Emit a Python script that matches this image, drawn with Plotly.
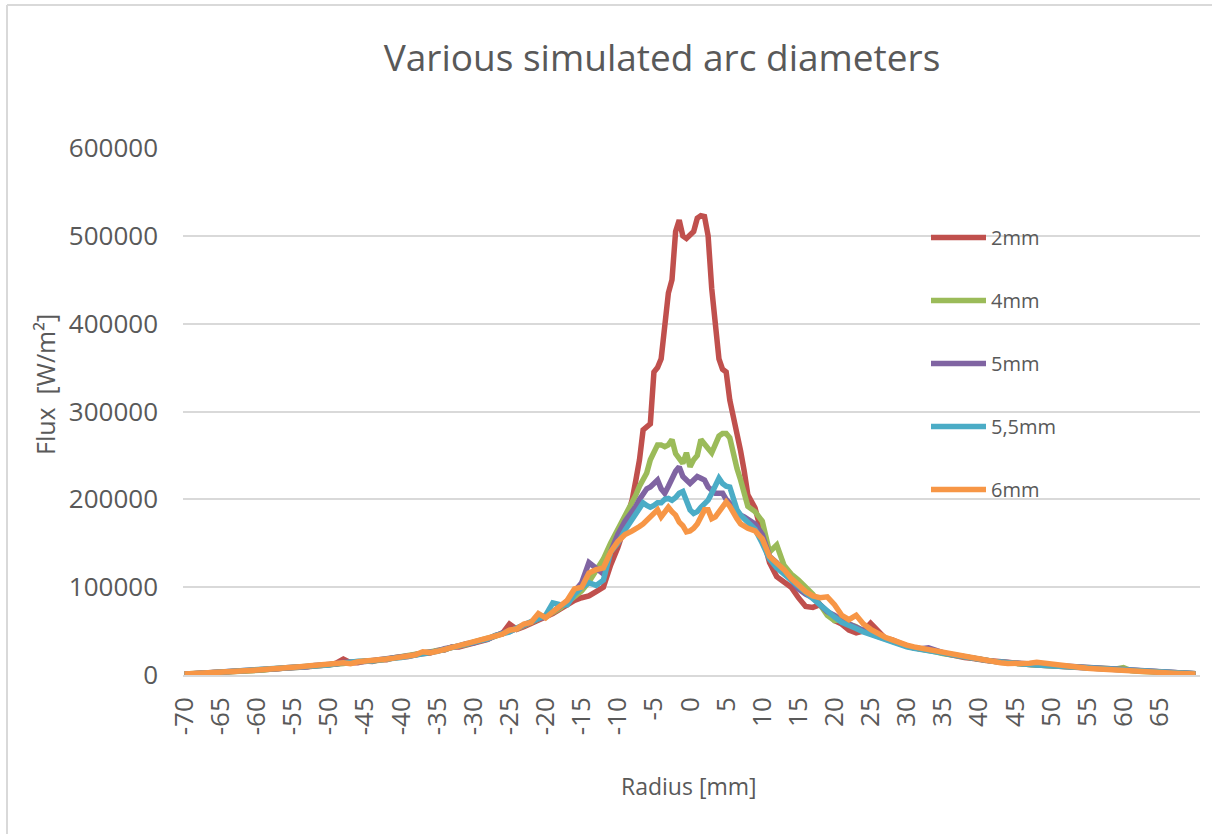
import numpy as np
import plotly.graph_objects as go

# Radius positions [mm]
radius = [
    -70, -69, -68, -67, -66, -65, -64, -63, -62, -61,
    -60, -59, -58, -57, -56, -55, -54, -53, -52, -51,
    -50, -49, -48, -47, -46, -45, -44, -43, -42, -41,
    -40, -39, -38, -37, -36, -35, -34, -33, -32, -31,
    -30, -29, -28, -27, -26, -25, -24, -23, -22, -21,
    -20, -19, -18, -17, -16, -15, -14, -13, -12, -11, -10, -9,
    -8, -7.5, -7, -6.5, -6, -5.5, -5, -4.5, -4, -3.5, -3, -2.5, -2, -1.5, -1, -0.5,
    0, 0.5, 1, 1.5, 2, 2.5, 3, 3.5, 4, 4.5, 5, 5.5, 6, 6.5, 7, 7.5, 8,
    9, 10, 11, 12, 13, 14, 15, 16, 17, 18,
    19, 20, 21, 22, 23, 24, 25, 26, 27, 28,
    29, 30, 31, 32, 33, 34, 35, 36, 37, 38,
    39, 40, 41, 42, 43, 44, 45, 46, 47, 48,
    49, 50, 51, 52, 53, 54, 55, 56, 57, 58,
    59, 60, 61, 62, 63, 64, 65, 66, 67, 68,
    69, 70,
]

# Flux values in kW/m²
flux_2mm_kw = [
    0.8, 1.2, 1.8, 2.0, 2.6, 3.0, 3.2, 3.6, 4.5, 4.6,
    5.0, 6.2, 6.3, 7.0, 8.2, 8.0, 9.2, 9.5, 10.0, 11.5,
    11.5, 13.5, 18.0, 14.0, 14.0, 15.8, 15.5, 17.4, 17.5, 19.8,
    20.0, 21.0, 23.5, 24.0, 25.0, 28.0, 28.5, 31.8, 32.0, 34.0,
    36.0, 38.5, 40.5, 45.0, 47.0, 58.0, 52.0, 55.0, 58.5, 62.0,
    66.0, 70.0, 75.0, 80.0, 85, 88, 90, 95, 100, 125, 145, 170,
    200, 222, 245, 279, 283, 286, 345, 350, 360, 395, 435, 450, 505, 518, 500, 497,
    502, 505, 520, 523, 522, 500, 440, 405, 360, 348, 345, 313, 295, 278, 255, 232, 205,
    190, 160, 128, 112, 106, 100, 88, 78, 77, 80,
    72, 62, 58, 51, 48, 50, 59, 50, 42, 40,
    36, 33, 31, 30, 28, 27, 25, 23, 21.5, 20,
    19, 17, 16.5, 16, 15, 13.5, 13, 12.5, 12, 11.5,
    11.5, 11, 10, 9.5, 9, 8.5, 7.8, 7, 6.5, 6,
    5.5, 5, 4.5, 4, 3.5, 3.2, 2.8, 2.4, 2.1, 1.8,
    1.5, 1.3,
]

flux_4mm_kw = [
    1.2, 1.5, 1.5, 2.2, 2.4, 3.1, 3.3, 3.9, 4.0, 5.0,
    5.2, 5.6, 6.8, 7.0, 7.6, 8.5, 8.8, 9.8, 10.3, 11.0,
    12.2, 12.5, 13.0, 14.5, 14.6, 15.0, 16.2, 16.8, 18.2, 19.0,
    20.8, 21.5, 23.2, 24.0, 26.5, 27.5, 29.0, 31.5, 32.8, 34.5,
    37.5, 39.0, 42.0, 44.0, 47.5, 50.5, 52.5, 56.0, 60.5, 63.0,
    67.5, 71.0, 76.0, 83.0, 90, 96, 106, 118, 132, 150, 165, 180,
    195, 205, 215, 222, 230, 245, 255, 262, 262, 260, 262, 268, 252, 245, 241, 253,
    237, 245, 250, 268, 262, 258, 253, 262, 272, 275, 275, 270, 250, 235, 222, 205, 192,
    186, 175, 140, 148, 125, 115, 108, 100, 92, 80,
    68, 62, 63, 58, 55, 50, 47, 44, 41, 38.5,
    35, 33, 31, 30, 28, 26.5, 24.5, 23, 21.5, 20,
    18.5, 17, 16.5, 15.5, 14.5, 13.5, 13, 12.5, 12, 11.5,
    11, 10.8, 10.2, 9.5, 9, 8.5, 8, 7.2, 6.5, 6.3,
    6.8, 8.5, 5.0, 4.3, 3.8, 3.3, 2.9, 2.5, 2.2, 1.9,
    1.6, 1.3,
]

flux_5mm_kw = [
    0.9, 1.4, 1.9, 2.0, 2.7, 2.8, 3.6, 3.7, 4.4, 5.2,
    5.5, 5.8, 6.4, 7.4, 7.6, 8.2, 9.3, 9.5, 10.8, 11.0,
    12.3, 12.5, 14.2, 14.0, 15.2, 15.3, 16.4, 16.8, 18.5, 19.5,
    20.2, 22.5, 22.8, 25.0, 25.8, 27.2, 30.0, 31.0, 33.2, 35.5,
    36.5, 39.5, 41.0, 44.5, 48.0, 49.5, 53.5, 56.0, 60.0, 64.0,
    66.0, 72.0, 78.0, 84.0, 95, 105, 128, 122, 115, 140, 160, 175,
    185, 192, 200, 207, 212, 214, 218, 222, 212, 207, 215, 225, 232, 237, 226, 222,
    218, 222, 226, 224, 222, 214, 210, 207, 207, 207, 200, 195, 191, 186, 182, 180, 177,
    172, 160, 135, 128, 118, 108, 98, 92, 88, 80,
    72, 68, 62, 58, 54, 50, 47, 44, 41, 39,
    36, 33.5, 31, 30, 31, 27.5, 25.5, 23.5, 22, 20.5,
    19, 18, 16.8, 15.5, 14.8, 14, 13.5, 13, 12.5, 12,
    11.5, 11, 10.5, 10, 9.3, 8.6, 8, 7.4, 6.8, 6.2,
    5.8, 5.2, 4.8, 4.2, 3.8, 3.3, 3.0, 2.6, 2.2, 1.9,
    1.6, 1.4,
]

flux_5_5mm_kw = [
    0.7, 1.2, 1.6, 2.3, 2.3, 2.8, 3.4, 3.7, 4.2, 4.7,
    5.1, 6.0, 6.3, 7.0, 7.7, 8.5, 8.6, 9.6, 10.2, 10.8,
    11.5, 12.8, 13.2, 14.6, 15.6, 15.0, 15.8, 17.2, 17.6, 19.0,
    20.0, 21.2, 23.5, 24.2, 26.2, 27.0, 29.2, 31.0, 33.0, 34.8,
    36.8, 39.5, 41.0, 44.8, 46.5, 49.0, 53.5, 57.0, 59.5, 63.0,
    68.0, 82.0, 80.0, 80.0, 92, 100, 105, 102, 108, 140, 150, 165,
    178, 185, 190, 196, 193, 191, 193, 196, 196, 200, 201, 199, 202, 207, 209, 200,
    188, 184, 186, 191, 195, 199, 207, 214, 224, 218, 215, 214, 200, 188, 182, 178, 175,
    166, 150, 132, 122, 115, 108, 100, 92, 86, 80,
    72, 66, 60, 57, 53, 49, 46, 43.5, 41, 38,
    35, 32, 30.5, 29, 28, 26.5, 25, 23.5, 21.5, 20,
    18.5, 17.5, 16.5, 15.5, 14.8, 13.8, 13.2, 12.5, 12, 11.5,
    11, 10.4, 10, 9.5, 9, 8.4, 7.8, 7.2, 6.6, 6.0,
    5.4, 5.0, 4.6, 4.0, 3.6, 3.2, 2.8, 2.4, 2.1, 1.8,
    1.5, 1.3,
]

flux_6mm_kw = [
    1.0, 1.3, 1.5, 2.1, 2.4, 3.0, 3.5, 4.2, 4.2, 5.0,
    5.6, 6.0, 6.8, 7.2, 8.0, 8.6, 9.4, 10.2, 10.6, 12.0,
    12.3, 13.0, 13.8, 12.8, 15.0, 15.5, 16.2, 17.0, 18.2, 19.2,
    20.8, 21.5, 23.0, 26.5, 25.5, 27.0, 29.2, 30.6, 33.5, 35.0,
    37.2, 39.8, 41.5, 45.0, 46.5, 51.0, 52.5, 58.0, 60.0, 70.0,
    65.0, 72.0, 78.0, 85.0, 98, 100, 116, 120, 122, 140, 152, 160,
    164, 166, 169, 172, 176, 180, 186, 188, 180, 186, 191, 186, 182, 174, 170, 163,
    164, 167, 172, 180, 188, 188, 178, 180, 186, 192, 197, 192, 184, 178, 172, 169, 167,
    164, 155, 135, 128, 120, 110, 102, 95, 90, 88,
    89, 80, 68, 63, 68, 58, 52, 47, 43, 40,
    36.5, 34, 32, 30.5, 28.5, 27, 25, 23.5, 22, 20.5,
    18.8, 17.5, 16.5, 15, 14, 13, 12.8, 12.5, 13.5, 14.5,
    13.5, 11.5, 10.5, 9.8, 9, 8.4, 7.8, 7.2, 6.6, 6.0,
    5.5, 5.0, 4.4, 4.0, 3.5, 3.1, 2.7, 2.4, 2.1, 1.8,
    1.5, 1.2,
]

series_names = ["2mm", "4mm", "5mm", "5,5mm", "6mm"]
series_values = [flux_2mm_kw, flux_4mm_kw, flux_5mm_kw, flux_5_5mm_kw, flux_6mm_kw]
series_colors = ["#C0504D", "#9BBB59", "#8064A2", "#4BACC6", "#F79646"]

x_tick_vals = [-70, -65, -60, -55, -50, -45, -40, -35, -30, -25, -20, -15, -10, -5,
               0, 5, 10, 15, 20, 25, 30, 35, 40, 45, 50, 55, 60, 65]
x_tick_text = [str(v) for v in x_tick_vals]
y_tick_vals = [0, 100000, 200000, 300000, 400000, 500000, 600000]
y_tick_text = [str(v) for v in y_tick_vals]

W, H = 1212, 834
L, R, T, B = 183, 12, 148, 159
PW, PH = W - L - R, H - T - B


def px_x(px):
    return (px - L) / PW


def px_y(py):
    return (H - B - py) / PH


fig = go.Figure()
for name, vals, col in zip(series_names, series_values, series_colors):
    fig.add_trace(go.Scatter(
        x=radius, y=np.array(vals) * 1000.0, mode="lines", name=name,
        legendgroup=name,
        line=dict(color=col, width=5.5),
    ))

grey = "#595959"
fig.update_layout(
    width=W, height=H,
    margin=dict(l=L, r=R, t=T, b=B),
    paper_bgcolor="white", plot_bgcolor="white",
    font=dict(family="Open Sans", color=grey),
    title=dict(text="Various simulated arc diameters", x=662 / W, xref="container",
               xanchor="center", y=1 - 58 / H, yref="container", yanchor="middle",
               font=dict(size=37, color=grey, family="Open Sans")),
    showlegend=True,
    legend=dict(x=px_x(926), y=px_y(218), xanchor="left", yanchor="top",
                bgcolor="rgba(0,0,0,0)", font=dict(size=20, color=grey),
                itemwidth=55, tracegroupgap=34, traceorder="grouped"),
    xaxis=dict(range=[-70.2, 70.6], tickmode="array", tickvals=x_tick_vals,
               ticktext=x_tick_text,
               tickangle=-90, tickfont=dict(size=26, color=grey),
               showgrid=False, zeroline=False, showline=True,
               linecolor="#D9D9D9", linewidth=1.5, ticks="", ticklabelstandoff=10),
    yaxis=dict(range=[0, 600000], tickmode="array", tickvals=y_tick_vals,
               ticktext=y_tick_text, tickfont=dict(size=26, color=grey),
               showgrid=True, gridcolor="#D9D9D9", gridwidth=1.5,
               zeroline=False, showline=False, ticks="", ticklabelstandoff=24),
    annotations=[
        dict(text="Flux  [W/m²]", x=px_x(45), y=px_y(385), xref="paper", yref="paper",
             textangle=-90, showarrow=False, font=dict(size=25, color=grey),
             xanchor="center", yanchor="middle"),
        dict(text="Radius [mm]", x=px_x(689), y=px_y(786), xref="paper", yref="paper",
             showarrow=False, font=dict(size=23, color=grey),
             xanchor="center", yanchor="middle"),
    ],
    shapes=[
        dict(type="line", xref="paper", yref="paper", x0=px_x(7), x1=px_x(7),
             y0=px_y(5), y1=px_y(H), line=dict(color="#D9D9D9", width=2)),
        dict(type="line", xref="paper", yref="paper", x0=px_x(7), x1=px_x(W),
             y0=px_y(5), y1=px_y(5), line=dict(color="#D9D9D9", width=2)),
    ],
)

fig.write_html("out.html")
